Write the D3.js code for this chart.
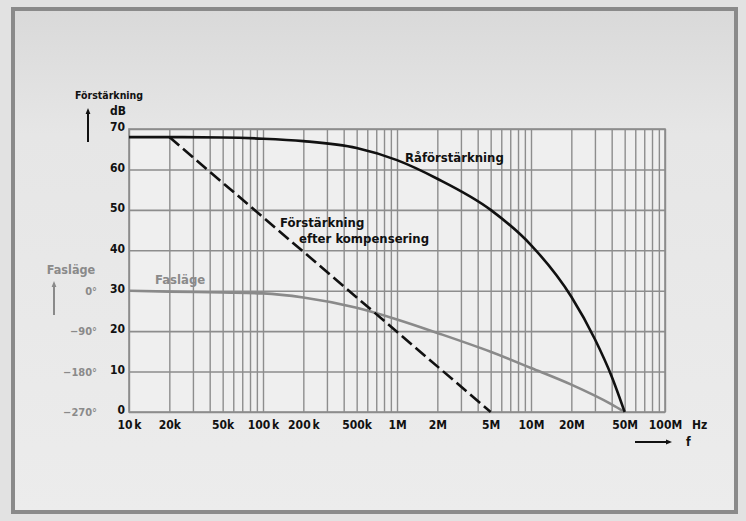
<!DOCTYPE html>
<html>
<head>
<meta charset="utf-8">
<script src="https://cdn.jsdelivr.net/npm/d3@7"></script>
<style>
  html, body { margin: 0; padding: 0; background: #e4e4e4; }
  svg { display: block; }
  text { font-family: "DejaVu Sans Condensed", "DejaVu Sans", sans-serif; font-weight: bold; }
</style>
</head>
<body>
<svg id="chart" width="746" height="521"></svg>
<script>
// Frequency axis (Hz)
const freqTicks = [1e4, 2e4, 5e4, 1e5, 2e5, 5e5, 1e6, 2e6, 5e6, 1e7, 2e7, 5e7, 1e8];
const freqTickLabels = ["10 k", "20k", "50k", "100 k", "200 k", "500k", "1M", "2M", "5M", "10M", "20M", "50M", "100M"];
// Gain axis (dB)
const gainTicks = [0, 10, 20, 30, 40, 50, 60, 70];
// Phase axis (degrees)
const phaseTicks = [0, -90, -180, -270];
const phaseTickLabels = ["0°", "\u221290°", "\u2212180°", "\u2212270°"];

// Open-loop gain (Råförstärkning)
const rawFreq = [1e4, 2e4, 5e4, 1e5, 2e5, 5e5, 1e6, 2e6, 5e6, 1e7, 2e7, 3e7, 4e7, 5e7];
const rawGain = [68, 68, 67.9, 67.6, 67, 65.3, 62.3, 57.7, 50, 41.3, 28.5, 18, 8.8, 0];

// Gain after compensation
const compFreq = [2e4, 5e6];
const compGain = [68, 0];

// Phase (Fasläge)
const phaseFreq = [1e4, 2e4, 5e4, 1e5, 2e5, 5e5, 1e6, 2e6, 5e6, 1e7, 2e7, 4e7, 5e7];
const phaseDeg = [0, -2, -4, -6, -15, -38, -64, -94, -136, -172, -209, -253, -270];

const svg = d3.select("#chart");
const W = 746, H = 521;
const plot = { left: 129, right: 665, top: 129, bottom: 412 };
const ink = "#111", grayInk = "#8a8a8a", gridColor = "#8d8d8d";

// paper background with frame
const defs = svg.append("defs");
const grad = defs.append("linearGradient").attr("id", "paper")
  .attr("x1", 0).attr("y1", 0).attr("x2", 0).attr("y2", 1);
grad.append("stop").attr("offset", "0%").attr("stop-color", "#d9d9d9");
grad.append("stop").attr("offset", "25%").attr("stop-color", "#e6e6e6");
grad.append("stop").attr("offset", "100%").attr("stop-color", "#ececec");
svg.append("rect").attr("width", W).attr("height", H).attr("fill", "#e2e2e2");
svg.append("rect").attr("x", 13).attr("y", 9).attr("width", 723).attr("height", 503)
  .attr("fill", "url(#paper)").attr("stroke", grayInk).attr("stroke-width", 4);

const x = d3.scaleLog().domain([1e4, 1e8]).range([plot.left, plot.right]);
const y = d3.scaleLinear().domain([0, 70]).range([plot.bottom, plot.top]);
const yPhase = d3.scaleLinear().domain([-270, 0]).range([y(0), y(30)]);

// plot background
svg.append("rect").attr("x", plot.left).attr("y", plot.top)
  .attr("width", plot.right - plot.left).attr("height", plot.bottom - plot.top)
  .attr("fill", "#efefef");

// log grid: every integer multiple in each decade
const gridFreqs = [];
for (let d = 1e4; d < 1e8; d *= 10) for (let m = 1; m < 10; m++) gridFreqs.push(d * m);
gridFreqs.push(1e8);

const vGrid = svg.append("g").attr("transform", `translate(0,${plot.bottom})`)
  .call(d3.axisBottom(x).tickValues(gridFreqs).tickSize(-(plot.bottom - plot.top)).tickFormat(""));
vGrid.select(".domain").remove();
vGrid.selectAll("line").attr("stroke", gridColor).attr("stroke-width", 1.4);

const hGrid = svg.append("g").attr("transform", `translate(${plot.left},0)`)
  .call(d3.axisLeft(y).tickValues(gainTicks).tickSize(-(plot.right - plot.left)).tickFormat(""));
hGrid.select(".domain").remove();
hGrid.selectAll("line").attr("stroke", gridColor).attr("stroke-width", 1.6);

// plot border
svg.append("rect").attr("x", plot.left).attr("y", plot.top)
  .attr("width", plot.right - plot.left).attr("height", plot.bottom - plot.top)
  .attr("fill", "none").attr("stroke", gridColor).attr("stroke-width", 1.6);

// frequency labels
const xAxis = svg.append("g").attr("transform", `translate(0,${plot.bottom + 4})`)
  .call(d3.axisBottom(x).tickValues(freqTicks).tickSize(0).tickPadding(4)
    .tickFormat((d, i) => freqTickLabels[i]));
xAxis.select(".domain").remove();
xAxis.selectAll("text").attr("font-size", 12).attr("fill", ink)
  .attr("font-family", "DejaVu Sans Condensed, sans-serif").attr("font-weight", "bold")
  .style("word-spacing", "-2px");
svg.append("text").attr("x", 692).attr("y", plot.bottom + 17).attr("font-size", 12)
  .attr("fill", ink).text("Hz");

// gain labels
const yAxis = svg.append("g").attr("transform", `translate(${plot.left - 2},-2)`)
  .call(d3.axisLeft(y).tickValues(gainTicks).tickSize(0).tickPadding(2));
yAxis.select(".domain").remove();
yAxis.selectAll("text").attr("font-size", 12).attr("fill", ink)
  .attr("font-family", "DejaVu Sans Condensed, sans-serif").attr("font-weight", "bold");

// phase labels
const phaseAxis = svg.append("g").attr("transform", "translate(97,0)")
  .call(d3.axisLeft(yPhase).tickValues(phaseTicks).tickSize(0).tickPadding(0)
    .tickFormat((d, i) => phaseTickLabels[i]));
phaseAxis.select(".domain").remove();
phaseAxis.selectAll("text").attr("font-size", 11).attr("fill", grayInk)
  .attr("font-family", "DejaVu Sans Condensed, sans-serif").attr("font-weight", "bold");

// axis titles and arrows
defs.append("marker").attr("id", "headBlack").attr("viewBox", "0 0 10 10")
  .attr("refX", 5).attr("refY", 5).attr("markerWidth", 3).attr("markerHeight", 3)
  .attr("orient", "auto").append("path").attr("d", "M0,1 L10,5 L0,9 Z").attr("fill", ink);
defs.append("marker").attr("id", "headGray").attr("viewBox", "0 0 10 10")
  .attr("refX", 5).attr("refY", 5).attr("markerWidth", 3).attr("markerHeight", 3)
  .attr("orient", "auto").append("path").attr("d", "M0,1 L10,5 L0,9 Z").attr("fill", grayInk);

svg.append("text").attr("x", 75).attr("y", 99).attr("font-size", 10.5)
  .attr("fill", ink).text("Förstärkning");
svg.append("text").attr("x", 110).attr("y", 115).attr("font-size", 12)
  .attr("fill", ink).text("dB");
svg.append("line").attr("x1", 88).attr("y1", 142).attr("x2", 88).attr("y2", 111)
  .attr("stroke", ink).attr("stroke-width", 2).attr("marker-end", "url(#headBlack)");

svg.append("text").attr("x", 71).attr("y", 274).attr("font-size", 12.5)
  .attr("text-anchor", "middle").attr("fill", grayInk).text("Fasläge");
svg.append("line").attr("x1", 54).attr("y1", 315).attr("x2", 54).attr("y2", 284)
  .attr("stroke", grayInk).attr("stroke-width", 2).attr("marker-end", "url(#headGray)");

svg.append("line").attr("x1", 635).attr("y1", 442).attr("x2", 669).attr("y2", 442)
  .attr("stroke", ink).attr("stroke-width", 2).attr("marker-end", "url(#headBlack)");
svg.append("text").attr("x", 686).attr("y", 446).attr("font-size", 12)
  .attr("fill", ink).text("f");

// curves
const gainLine = d3.line().x(d => x(d[0])).y(d => y(d[1])).curve(d3.curveMonotoneX);
const phaseLine = d3.line().x(d => x(d[0])).y(d => yPhase(d[1])).curve(d3.curveMonotoneX);

svg.append("path").datum(phaseFreq.map((f, i) => [f, phaseDeg[i]]))
  .attr("d", phaseLine).attr("fill", "none").attr("stroke", grayInk).attr("stroke-width", 2.6);

svg.append("path").datum(compFreq.map((f, i) => [f, compGain[i]]))
  .attr("d", d3.line().x(d => x(d[0])).y(d => y(d[1])))
  .attr("fill", "none").attr("stroke", ink).attr("stroke-width", 2.6)
  .attr("stroke-dasharray", "13,5");

svg.append("path").datum(rawFreq.map((f, i) => [f, rawGain[i]]))
  .attr("d", gainLine).attr("fill", "none").attr("stroke", ink).attr("stroke-width", 2.6);

// curve labels
svg.append("text").attr("x", 405).attr("y", 162).attr("font-size", 13)
  .attr("fill", ink).text("Råförstärkning");
svg.append("text").attr("x", 280).attr("y", 227).attr("font-size", 13)
  .attr("fill", ink).text("Förstärkning");
svg.append("text").attr("x", 299).attr("y", 243).attr("font-size", 13)
  .attr("fill", ink).text("efter kompensering");
svg.append("text").attr("x", 155).attr("y", 284).attr("font-size", 13)
  .attr("fill", grayInk).text("Fasläge");
</script>
</body>
</html>
